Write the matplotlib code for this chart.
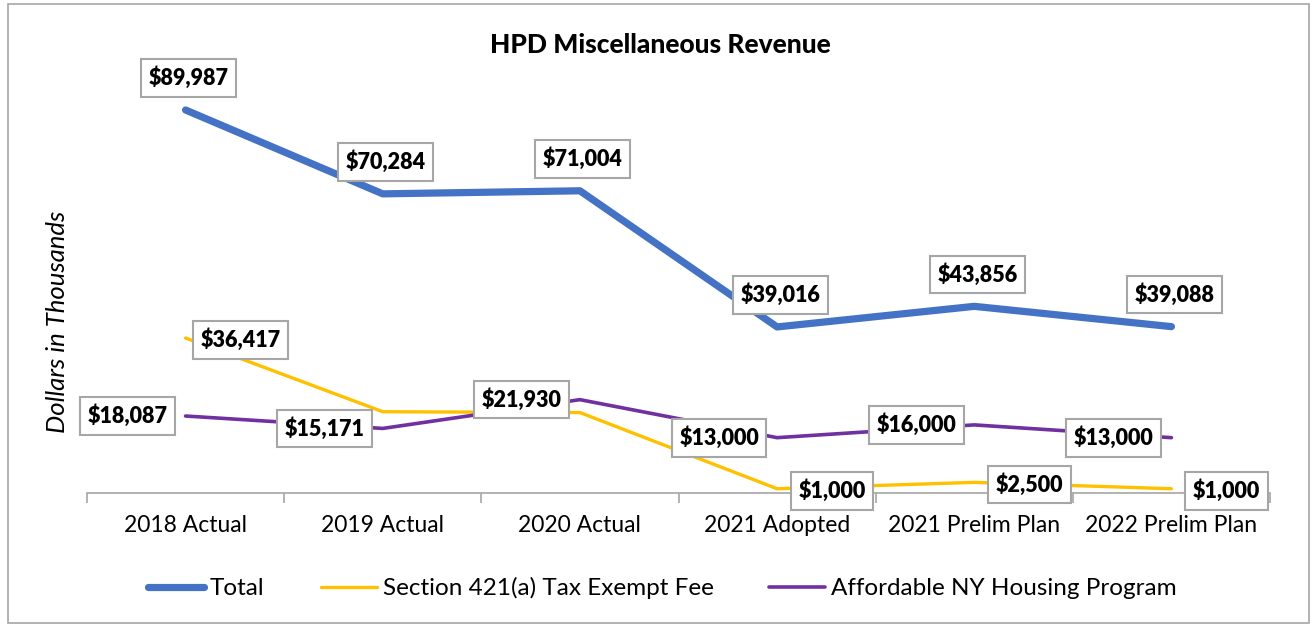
import matplotlib.pyplot as plt
from matplotlib.patches import Rectangle
from matplotlib.ticker import FixedLocator

plt.rcParams['font.family'] = ['Lato', 'DejaVu Sans']

# data
categories = ['2018 Actual', '2019 Actual', '2020 Actual', '2021 Adopted',
              '2021 Prelim Plan', '2022 Prelim Plan']
total = [89987, 70284, 71004, 39016, 43856, 39088]
sec421a = [36417, 19100, 18900, 1000, 2500, 1000]
affordable_ny = [18087, 15171, 21930, 13000, 16000, 13000]
# which points get a label (421a 2019/2020 have none in the original)
sec421a_labeled = [True, False, False, True, True, True]

fig = plt.figure(figsize=(13.12, 6.25), dpi=100)
ax = fig.add_axes([0.0663, 0.2112, 0.9017, 0.681])

x = range(len(categories))
ax.plot(x, total, color='#4472C4', lw=5.2, solid_capstyle='round', label='Total', zorder=3)
ax.plot(x, sec421a, color='#FFC000', lw=2.4, solid_capstyle='round',
        label='Section 421(a) Tax Exempt Fee', zorder=2)
ax.plot(x, affordable_ny, color='#7030A0', lw=2.6, solid_capstyle='round',
        label='Affordable NY Housing Program', zorder=2)

box = dict(boxstyle='square,pad=0.35', fc='white', ec='#A6A6A6', lw=1.5)

def label(xi, v, dx, dy):
    ax.annotate(f'${v:,}', (xi, v), xytext=(dx, dy), textcoords='offset pixels',
                ha='center', va='center', fontsize=15.5, fontweight='heavy',
                bbox=box, zorder=5)

for i, v in enumerate(total):
    label(i, v, 3, 32)
for i, v in enumerate(sec421a):
    if sec421a_labeled[i]:
        label(i, v, 55, -2)
for i, v in enumerate(affordable_ny):
    label(i, v, -58, 0)

ax.set_xlim(-0.5, len(categories) - 0.5)
ax.set_ylim(0, 100000)
ax.set_xticks(list(x))
ax.set_xticklabels(categories, fontsize=16.5)
ax.xaxis.set_minor_locator(FixedLocator([i - 0.5 for i in range(len(categories) + 1)]))
ax.tick_params(axis='x', which='major', length=0, pad=16)
ax.tick_params(axis='x', which='minor', length=7, color='#A6A6A6', width=1.2)
ax.set_yticks([])
for s in ['top', 'right', 'left']:
    ax.spines[s].set_visible(False)
ax.spines['bottom'].set_color('#A6A6A6')
ax.spines['bottom'].set_linewidth(1.2)

fig.text(0.503, 0.928, 'HPD Miscellaneous Revenue', ha='center', va='center',
         fontsize=19, fontweight='black')
fig.text(0.044, 0.485, 'Dollars in Thousands', rotation=90, ha='center', va='center',
         fontsize=18.5, style='italic')

fig.legend(loc='center', bbox_to_anchor=(0.505, 0.059), ncol=3, frameon=False,
           fontsize=17.5, handlelength=2.3, handletextpad=0.25, columnspacing=2.3)

# outer border
fig.patches.append(Rectangle((0.006, 0.003), 0.992, 0.99, transform=fig.transFigure,
                             fill=False, ec='#A6A6A6', lw=1.2))

fig.savefig('out.png', dpi=100)
